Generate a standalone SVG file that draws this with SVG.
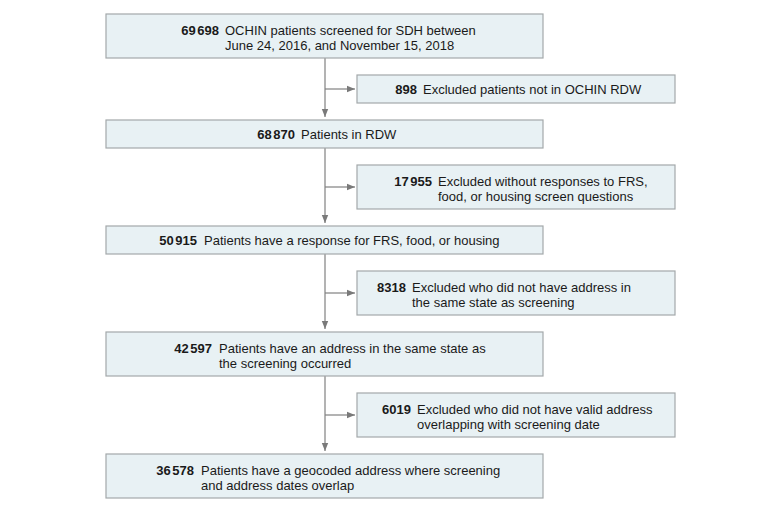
<svg xmlns="http://www.w3.org/2000/svg" width="780" height="512" viewBox="0 0 780 512">
<defs>
<marker id="ah" viewBox="0 0 8 8" refX="8" refY="4" markerWidth="8" markerHeight="8" markerUnits="userSpaceOnUse" orient="auto">
<path d="M0,0.8 L8,4 L0,7.2 Z" fill="#7a7a7a"/>
</marker>
<style>
.box{fill:#e8f1f4;stroke:#a3a8aa;stroke-width:1.2}
text{font-family:"Liberation Sans",Arial,sans-serif;font-size:13px;fill:#1a1a1a}
.n{font-weight:bold;text-anchor:end}
.c{fill:none;stroke:#808080;stroke-width:1.2}
</style>
</defs>
<rect width="780" height="512" fill="#ffffff"/>
<g id="connectors">
<line class="c" x1="325" y1="58" x2="325" y2="117" marker-end="url(#ah)"/>
<line class="c" x1="325" y1="89" x2="355" y2="89" marker-end="url(#ah)"/>
<line class="c" x1="325" y1="148" x2="325" y2="223" marker-end="url(#ah)"/>
<line class="c" x1="325" y1="187" x2="355" y2="187" marker-end="url(#ah)"/>
<line class="c" x1="325" y1="254" x2="325" y2="329" marker-end="url(#ah)"/>
<line class="c" x1="325" y1="293" x2="355" y2="293" marker-end="url(#ah)"/>
<line class="c" x1="325" y1="376" x2="325" y2="451" marker-end="url(#ah)"/>
<line class="c" x1="325" y1="415" x2="355" y2="415" marker-end="url(#ah)"/>
</g>
<g id="box1">
<rect class="box" x="106" y="14" width="437" height="44"/>
<text class="n" x="219" y="35">69<tspan dx="1.5">698</tspan></text>
<text x="225" y="35">OCHIN patients screened for SDH between</text>
<text x="225" y="50">June 24, 2016, and November 15, 2018</text>
</g>
<g id="excl1">
<rect class="box" x="357" y="75" width="318" height="28"/>
<text class="n" x="417" y="94">898</text>
<text x="423" y="94">Excluded patients not in OCHIN RDW</text>
</g>
<g id="box2">
<rect class="box" x="106" y="120" width="437" height="28"/>
<text class="n" x="295" y="139">68<tspan dx="1.5">870</tspan></text>
<text x="301" y="139">Patients in RDW</text>
</g>
<g id="excl2">
<rect class="box" x="357" y="165" width="318" height="44"/>
<text class="n" x="432" y="186">17<tspan dx="1.5">955</tspan></text>
<text x="438" y="186">Excluded without responses to FRS,</text>
<text x="438" y="201">food, or housing screen questions</text>
</g>
<g id="box3">
<rect class="box" x="106" y="226" width="437" height="28"/>
<text class="n" x="197" y="245">50<tspan dx="1.5">915</tspan></text>
<text x="204" y="245">Patients have a response for FRS, food, or housing</text>
</g>
<g id="excl3">
<rect class="box" x="357" y="271" width="318" height="44"/>
<text class="n" x="406" y="292">8318</text>
<text x="412" y="292">Excluded who did not have address in</text>
<text x="412" y="307">the same state as screening</text>
</g>
<g id="box4">
<rect class="box" x="106" y="332" width="437" height="44"/>
<text class="n" x="212" y="353">42<tspan dx="1.5">597</tspan></text>
<text x="219" y="353">Patients have an address in the same state as</text>
<text x="219" y="368">the screening occurred</text>
</g>
<g id="excl4">
<rect class="box" x="357" y="393" width="318" height="44"/>
<text class="n" x="411" y="414">6019</text>
<text x="417" y="414">Excluded who did not have valid address</text>
<text x="417" y="429">overlapping with screening date</text>
</g>
<g id="box5">
<rect class="box" x="106" y="454" width="437" height="44"/>
<text class="n" x="194" y="475">36<tspan dx="1.5">578</tspan></text>
<text x="201" y="475">Patients have a geocoded address where screening</text>
<text x="201" y="490">and address dates overlap</text>
</g>
</svg>
